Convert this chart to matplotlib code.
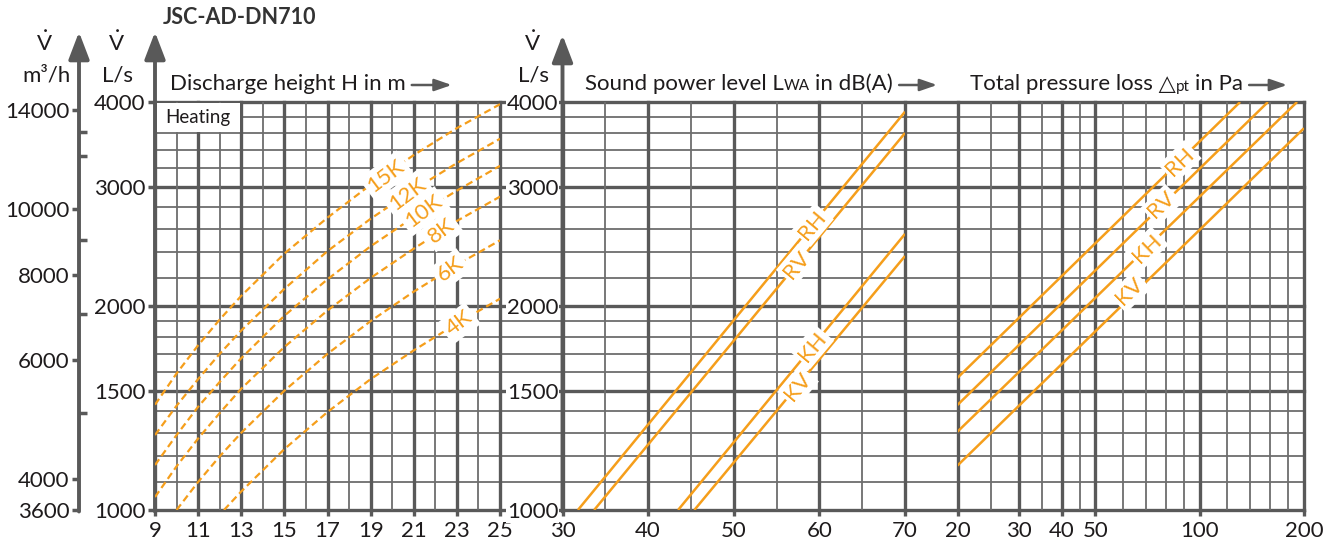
import matplotlib
matplotlib.use('Agg')
import matplotlib.pyplot as plt
from matplotlib.ticker import NullLocator, FixedLocator, NullFormatter
from matplotlib.patches import Rectangle

plt.rcParams['font.family'] = ['Lato', 'DejaVu Sans']
plt.rcParams['mathtext.fontset'] = 'custom'
plt.rcParams['mathtext.rm'] = 'Lato'
plt.rcParams['mathtext.it'] = 'Lato:italic'
plt.rcParams['mathtext.bf'] = 'Lato:bold'

# ---------------- data ----------------
# Left panel: discharge height H (m) vs volume flow (L/s), heating dT curves
H_main = [9, 10, 11, 12, 13, 15, 17, 19, 21, 23, 25]
V_15K = [1430, 1590, 1750, 1910, 2070, 2390, 2700, 3020, 3340, 3660, 3970]
V_12K = [1290, 1425, 1560, 1700, 1840, 2120, 2410, 2690, 2970, 3250, 3530]
V_10K = [1165, 1290, 1420, 1545, 1675, 1935, 2190, 2450, 2705, 2960, 3220]
V_8K = [1045, 1160, 1275, 1390, 1510, 1740, 1970, 2200, 2430, 2670, 2900]
H_6K = [10, 11, 12, 13, 15, 17, 19, 21, 23, 25]
V_6K = [1000, 1100, 1200, 1300, 1500, 1700, 1900, 2100, 2300, 2500]
H_4K = [12.2, 13, 15, 17, 19, 21, 23, 25]
V_4K = [1000, 1065, 1230, 1395, 1560, 1720, 1885, 2050]
dt_labels = ['15K', '12K', '10K', '8K', '6K', '4K']
dt_label_H = [19.7, 20.7, 21.45, 22.3, 22.7, 23.1]
dt_label_V = [3115, 2925, 2760, 2580, 2265, 1885]

# Middle panel: sound power level (dB(A))
sound_names = ['RH', 'RV', 'KH', 'KV']
sound_db_low = [31.8, 33.7, 43.5, 45.4]
sound_V_low = [1000, 1000, 1000, 1000]
sound_db_high = [70, 70, 70, 70]
sound_V_high = [3870, 3600, 2555, 2370]
sound_label_db = [59.2, 57.35, 59.2, 57.5]
sound_label_V = [2634, 2299, 1742, 1520]

# Right panel: total pressure loss (Pa)
press_names = ['RH', 'RV', 'KH', 'KV']
press_low = [20, 20, 20, 20]
press_V_low = [1567, 1429, 1305, 1163]
press_high = [130.8, 157.4, 191, 200]
press_V_high = [4000, 4000, 4000, 3659]
press_label_p = [87.7, 77.7, 70.3, 62.9]
press_label_V = [3266, 2819, 2433, 2100]

# axes ticks / grid
V_major = [1000, 1500, 2000, 3000, 4000]
V_minor = [1100, 1200, 1300, 1400, 1600, 1700, 1800, 1900,
           2200, 2400, 2600, 2800, 3200, 3400, 3600, 3800]
mh_major = [3600, 4000, 6000, 8000, 10000, 14000]
mh_minor = [5000, 7000, 9000, 12000, 13000]
H_major = [9, 11, 13, 15, 17, 19, 21, 23, 25]
H_minor = [10, 12, 14, 16, 18, 20, 22, 24]
db_major = [30, 40, 50, 60, 70]
db_minor = [35, 45, 55, 65]
p_major = [20, 30, 40, 50, 100, 200]
p_minor = [25, 35, 45, 60, 70, 80, 90, 120, 140, 160, 180]

# ---------------- style ----------------
W, HP = 1341, 548
GRID_DARK = '#595959'
GRID_THIN = '#6d6d6d'
LW_THICK = 2.4
LW_THIN = 1.3
ORANGE = '#F59E1B'
TXT = '#1e1b1c'
FS = 16

fig = plt.figure(figsize=(W / 100, HP / 100), dpi=100)


def fx(x):
    return x / W


def fy(y):
    return 1 - y / HP


def rect(x0, x1, y0=102, y1=510):
    return [fx(x0), fy(y1), (x1 - x0) / W, (y1 - y0) / HP]


# background axes for horizontal grid (continuous across panels)
ax_bg = fig.add_axes(rect(155, 1304))
ax_bg.set_yscale('log')
ax_bg.set_ylim(1000, 4000)
ax_bg.set_xlim(0, 1)
ax_bg.axis('off')
for v in V_minor:
    ax_bg.axhline(v, color=GRID_THIN, lw=LW_THIN, zorder=1)
for v in V_major:
    ax_bg.axhline(v, color=GRID_DARK, lw=LW_THICK, zorder=2, clip_on=False)


def setup_panel(ax, xmajor, xminor, xlabels, logx=False):
    ax.set_yscale('log')
    ax.set_ylim(1000, 4000)
    if logx:
        ax.set_xscale('log')
    ax.patch.set_visible(False)
    for s in ax.spines.values():
        s.set_visible(False)
    for v in xminor:
        ax.axvline(v, color=GRID_THIN, lw=LW_THIN, zorder=1)
    for v in xmajor:
        ax.axvline(v, color=GRID_DARK, lw=LW_THICK, zorder=2, clip_on=False)
    ax.set_xticks(xmajor)
    ax.set_xticklabels(xlabels)
    ax.xaxis.set_minor_locator(NullLocator())
    ax.yaxis.set_minor_locator(NullLocator())
    ax.tick_params(axis='x', length=4, width=LW_THICK, color=GRID_DARK,
                   labelsize=FS, labelcolor=TXT, pad=4)


# ---------------- left panel ----------------
ax_l = fig.add_axes(rect(155, 500))
ax_l.set_xlim(9, 25)
setup_panel(ax_l, H_major, H_minor, [str(h) for h in H_major])
ax_l.set_yticks(V_major)
ax_l.set_yticklabels([str(v) for v in V_major])
ax_l.yaxis.set_minor_locator(NullLocator())
ax_l.tick_params(axis='y', length=5, width=2.5, color=GRID_DARK,
                 labelsize=FS, labelcolor=TXT, pad=2)

dash = (0, (3.2, 1.8))
for Hs, Vs in [(H_main, V_15K), (H_main, V_12K), (H_main, V_10K),
               (H_main, V_8K), (H_6K, V_6K), (H_4K, V_4K)]:
    ax_l.plot(Hs, Vs, color=ORANGE, lw=1.6, linestyle=dash, zorder=3)
for lab, h, v in zip(dt_labels, dt_label_H, dt_label_V):
    ax_l.text(h, v, lab, color=ORANGE, fontsize=FS, rotation=37,
              rotation_mode='anchor', ha='center', va='center', zorder=6,
              bbox=dict(facecolor='white', edgecolor='none', pad=2.5))

ax_l.add_patch(Rectangle((9.09, 3612), 3.85, 375, facecolor='white',
                         edgecolor='none', zorder=5))
ax_l.text(11.0, 3790, 'Heating', color=TXT, fontsize=13.5, ha='center',
          va='center', zorder=6)

# outer m3/h axis
sec = ax_l.secondary_yaxis(-(155 - 79) / 345,
                           functions=(lambda v: v * 3.6, lambda v: v / 3.6))
sec.set_yticks(mh_major)
sec.set_yticklabels([str(v) for v in mh_major])
sec.yaxis.set_minor_locator(FixedLocator(mh_minor))
sec.yaxis.set_minor_formatter(NullFormatter())
sec.tick_params(which='major', length=5, width=2.5, color=GRID_DARK,
                labelsize=FS, labelcolor=TXT, pad=2, direction='out')
sec.tick_params(which='minor', length=6, width=2.5, color=GRID_DARK,
                direction='in')
sec.spines['left'].set_visible(False)

# ---------------- middle panel ----------------
ax_m = fig.add_axes(rect(562.5, 905))
ax_m.set_xlim(30, 70)
setup_panel(ax_m, db_major, db_minor, [str(d) for d in db_major])
ax_m.set_yticks(V_major)
ax_m.set_yticklabels([str(v) for v in V_major])
ax_m.yaxis.set_minor_locator(NullLocator())
ax_m.tick_params(axis='y', length=0, labelsize=FS, labelcolor=TXT, pad=3)
for lbl in ax_m.get_yticklabels():
    lbl.set_bbox(dict(facecolor='white', edgecolor='none', pad=0.5))
for i in range(4):
    ax_m.plot([sound_db_low[i], sound_db_high[i]],
              [sound_V_low[i], sound_V_high[i]],
              color=ORANGE, lw=1.8, zorder=3, solid_capstyle='butt')
for lab, d, v in zip(sound_names, sound_label_db, sound_label_V):
    ax_m.text(d, v, lab, color=ORANGE, fontsize=FS, rotation=50,
              rotation_mode='anchor', ha='center', va='center', zorder=6,
              bbox=dict(facecolor='white', edgecolor='none', pad=2))

# ---------------- right panel ----------------
ax_r = fig.add_axes(rect(957.5, 1304))
ax_r.set_xlim(20, 200)
setup_panel(ax_r, p_major, p_minor, [str(p) for p in p_major], logx=True)
ax_r.set_yticks([])
for i in range(4):
    ax_r.plot([press_low[i], press_high[i]],
              [press_V_low[i], press_V_high[i]],
              color=ORANGE, lw=1.8, zorder=3, solid_capstyle='butt')
for lab, p, v in zip(press_names, press_label_p, press_label_V):
    ax_r.text(p, v, lab, color=ORANGE, fontsize=FS, rotation=44,
              rotation_mode='anchor', ha='center', va='center', zorder=6,
              bbox=dict(facecolor='white', edgecolor='none', pad=2))

# ---------------- axis arrows ----------------
def vert_arrow(x, ybot, ytop):
    ax_bg.annotate('', xy=(x, HP - ytop), xytext=(x, HP - ybot),
                   xycoords='figure pixels', textcoords='figure pixels',
                   arrowprops=dict(arrowstyle='-|>,head_length=1.1,head_width=0.42',
                                   color=GRID_DARK, lw=2.8, mutation_scale=15,
                                   shrinkA=0, shrinkB=0),
                   annotation_clip=False)


vert_arrow(79, 511.5, 32)
vert_arrow(155, 511.5, 32)
vert_arrow(562.5, 511.5, 35)


def horiz_arrow(x0, x1, y):
    ax_bg.annotate('', xy=(x1, HP - y), xytext=(x0, HP - y),
                   xycoords='figure pixels', textcoords='figure pixels',
                   arrowprops=dict(arrowstyle='-|>,head_length=1.3,head_width=0.45',
                                   color=GRID_DARK, lw=1.8, mutation_scale=8,
                                   shrinkA=0, shrinkB=0),
                   annotation_clip=False)


# ---------------- texts ----------------
fig.text(fx(163), fy(24), 'JSC-AD-DN710', fontsize=15.5, fontweight='bold',
         color='#333333', ha='left', va='baseline')

for xc, unit in [(45, 'm³/h'), (117, 'L/s'), (533, 'L/s')]:
    fig.text(fx(xc - 1), fy(51), r'$\dot{\mathrm{V}}$', fontsize=FS, color=TXT,
             ha='center', va='baseline')
    fig.text(fx(xc + (2 if unit == 'm³/h' else 0)), fy(82), unit, fontsize=FS,
             color=TXT, ha='center', va='baseline')

base_y = 90
t1 = fig.text(fx(170), fy(base_y), 'Discharge height H in m', fontsize=FS,
              color=TXT, ha='left', va='baseline')
s1 = fig.text(fx(585), fy(base_y), 'Sound power level L', fontsize=FS,
              color=TXT, ha='left', va='baseline')
p1 = fig.text(fx(970), fy(base_y), 'Total pressure loss \u25b3', fontsize=FS,
              color=TXT, ha='left', va='baseline')

fig.canvas.draw()
r = fig.canvas.get_renderer()
e = t1.get_window_extent(r)
horiz_arrow(e.x1 + 6, e.x1 + 46, 85)

e = s1.get_window_extent(r)
s2 = fig.text(e.x1 / W + 0.5 / W, fy(base_y), 'WA', fontsize=11, color=TXT,
              ha='left', va='baseline')
fig.canvas.draw()
e2 = s2.get_window_extent(r)
s3 = fig.text(e2.x1 / W + 5 / W, fy(base_y), 'in dB(A)', fontsize=FS,
              color=TXT, ha='left', va='baseline')
fig.canvas.draw()
e3 = s3.get_window_extent(r)
horiz_arrow(e3.x1 + 6, e3.x1 + 44, 85)

e = p1.get_window_extent(r)
p2 = fig.text(e.x1 / W + 0.5 / W, fy(base_y + 1), 'pt', fontsize=11, color=TXT,
              ha='left', va='baseline')
fig.canvas.draw()
e2 = p2.get_window_extent(r)
p3 = fig.text(e2.x1 / W + 5 / W, fy(base_y), 'in Pa', fontsize=FS,
              color=TXT, ha='left', va='baseline')
fig.canvas.draw()
e3 = p3.get_window_extent(r)
horiz_arrow(e3.x1 + 6, e3.x1 + 44, 85)

fig.savefig('out.png', dpi=100)
